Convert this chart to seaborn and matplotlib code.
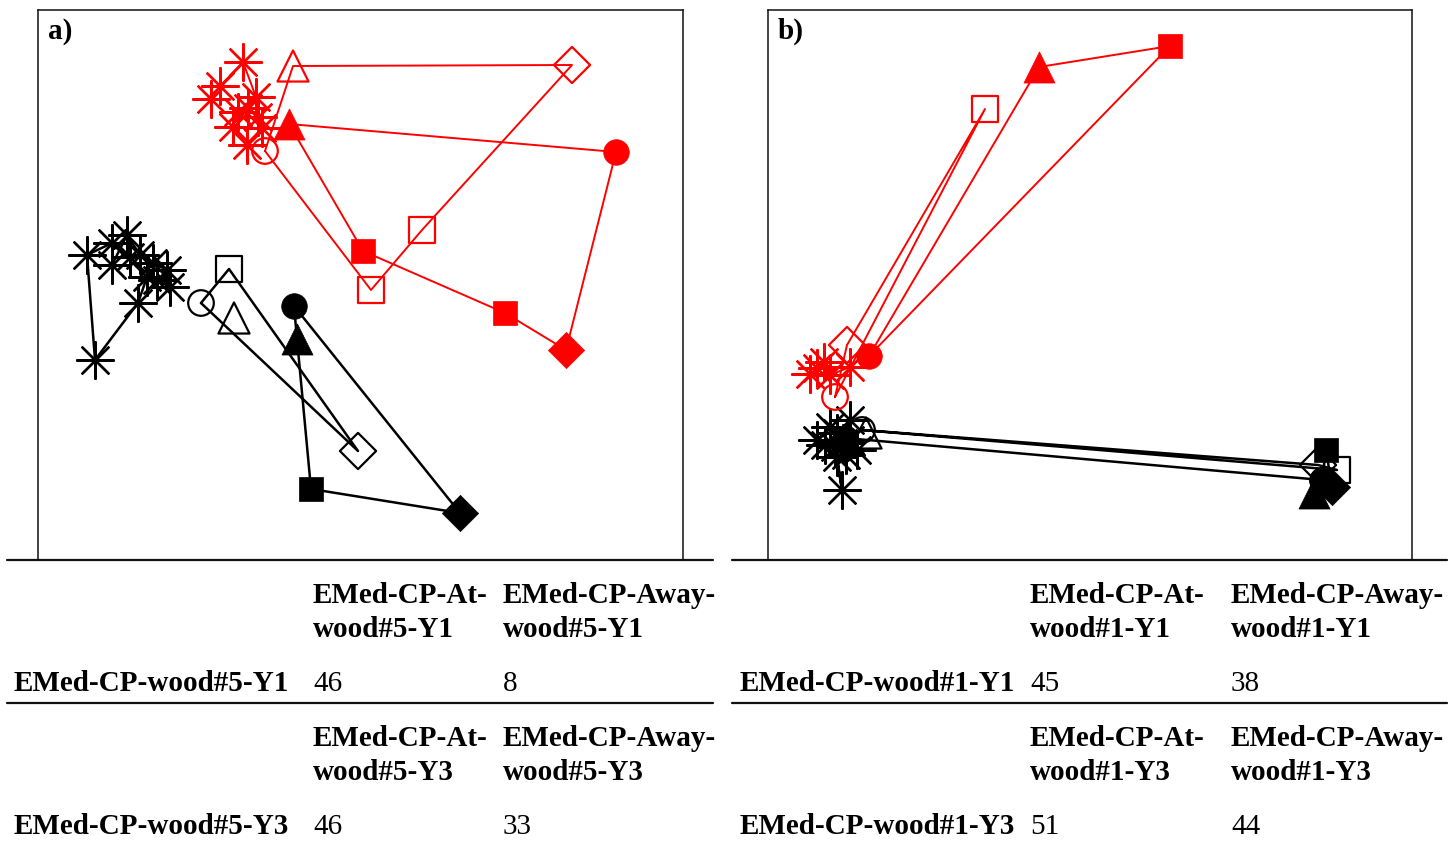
import matplotlib
matplotlib.use("Agg")
import matplotlib.pyplot as plt
import seaborn as sns
import pandas as pd
from matplotlib.lines import Line2D

# ---------------- data (ordination coordinates, arbitrary units) ----------------
# Panel a) wood#5 ; red = Y1, black = Y3
a_red_star_x = [1.73, 1.82, 2.05, 2.18, 2.10, 2.20, 2.24, 2.09, 1.95, 2.00]
a_red_star_y = [4.61, 4.74, 4.98, 4.63, 4.52, 4.43, 4.32, 4.15, 4.33, 4.48]
a_red_open_x = [2.27, 3.33, 3.84, 5.34, 2.55]
a_red_open_y = [4.09, 2.70, 3.30, 4.95, 4.94]
a_red_open_m = ["o", "s", "s", "D", "^"]
a_red_fill_x = [2.51, 5.78, 5.28, 4.67, 3.25]
a_red_fill_y = [4.36, 4.08, 2.10, 2.47, 3.09]
a_red_fill_m = ["^", "o", "D", "s", "s"]

a_blk_star_x = [0.92, 0.74, 0.49, 0.57, 1.00, 1.09, 1.19, 1.32, 1.29, 1.15, 1.02, 0.89, 0.74]
a_blk_star_y = [3.03, 3.17, 3.05, 2.00, 2.57, 2.83, 2.80, 2.73, 2.90, 2.97, 3.05, 3.25, 2.95]
a_blk_open_x = [1.63, 1.91, 3.20]
a_blk_open_y = [2.57, 2.91, 1.09]
a_blk_open_m = ["o", "s", "D"]
a_blk_solo_x = [1.96]
a_blk_solo_y = [2.42]
a_blk_solo_m = ["^"]
a_blk_fill_x = [2.56, 4.22, 2.73, 2.59]
a_blk_fill_y = [2.54, 0.47, 0.71, 2.21]
a_blk_fill_m = ["o", "D", "s", "^"]

# Panel b) wood#1
b_red_star_x = [0.42, 0.49, 0.56, 0.62, 0.82]
b_red_star_y = [1.86, 1.92, 1.98, 1.85, 1.93]
b_red_open_x = [0.67, 2.17, 0.79]
b_red_open_y = [1.63, 4.51, 2.15]
b_red_open_m = ["o", "s", "D"]
b_red_fill_x = [1.01, 4.02, 2.71]
b_red_fill_y = [2.04, 5.14, 4.93]
b_red_fill_m = ["o", "s", "^"]

b_blk_star_x = [0.49, 0.62, 0.69, 0.82, 0.75, 0.82, 0.89, 0.78, 0.69, 0.74, 0.67, 0.57]
b_blk_star_y = [1.20, 1.33, 1.27, 1.40, 1.17, 1.20, 1.10, 1.05, 1.03, 0.70, 1.13, 1.15]
b_blk_open_x = [0.94, 5.50, 5.69]
b_blk_open_y = [1.30, 0.95, 0.90]
b_blk_open_m = ["o", "D", "s"]
b_blk_solo_x = [0.98]
b_blk_solo_y = [1.27]
b_blk_solo_m = ["^"]
b_blk_fill_x = [0.77, 5.54, 5.46, 5.64, 5.58, 5.54]
b_blk_fill_y = [1.22, 0.80, 0.67, 0.73, 1.10, 0.80]
b_blk_fill_m = ["o", "o", "^", "D", "s", "o"]

# table text
panel_labels = ["a)", "b)"]
col_heads_a = [["EMed-CP-At-", "wood#5-Y1"], ["EMed-CP-Away-", "wood#5-Y1"],
               ["EMed-CP-At-", "wood#5-Y3"], ["EMed-CP-Away-", "wood#5-Y3"]]
col_heads_b = [["EMed-CP-At-", "wood#1-Y1"], ["EMed-CP-Away-", "wood#1-Y1"],
               ["EMed-CP-At-", "wood#1-Y3"], ["EMed-CP-Away-", "wood#1-Y3"]]
row_labels_a = ["EMed-CP-wood#5-Y1", "EMed-CP-wood#5-Y3"]
row_labels_b = ["EMed-CP-wood#1-Y1", "EMed-CP-wood#1-Y3"]
values_a = [[46, 8], [46, 33]]
values_b = [[45, 38], [51, 44]]

# ---------------- style ----------------
sns.set_style("white")
plt.rcParams["font.family"] = ["Liberation Serif", "DejaVu Serif"]
plt.rcParams["text.color"] = "black"

W, H = 1455, 841
fig = plt.figure(figsize=(W / 100, H / 100), dpi=100)


def fx(px):
    return px / W


def fy(py):
    return 1 - py / H


RED = "#ff0000"
BLK = "#000000"
MSIZE = {"o": 340, "s": 330, "D": 340, "^": 500}
STAR = (8, 2, 0)


def draw_path(ax, xs, ys, color, lw, closed=True):
    xs = list(xs) + ([xs[0]] if closed else [])
    ys = list(ys) + ([ys[0]] if closed else [])
    df = pd.DataFrame({"x": xs, "y": ys})
    sns.lineplot(data=df, x="x", y="y", sort=False, estimator=None,
                 color=color, lw=lw, ax=ax, zorder=2)


def draw_markers(ax, xs, ys, ms, color, filled):
    df = pd.DataFrame({"x": xs, "y": ys, "m": ms})
    for m, sub in df.groupby("m"):
        s = MSIZE[m] * (0.85 if (filled and m == "s") else 1.0)
        if filled:
            sns.scatterplot(data=sub, x="x", y="y", marker=m, s=s, color=color,
                            edgecolor=color, linewidth=0.5, ax=ax, zorder=4)
        else:
            sns.scatterplot(data=sub, x="x", y="y", marker=m, s=s,
                            facecolor="none", edgecolor=color, linewidth=1.6,
                            ax=ax, zorder=4)


def draw_stars(ax, xs, ys, color):
    df = pd.DataFrame({"x": xs, "y": ys})
    sns.scatterplot(data=df, x="x", y="y", marker=STAR, s=700, color=color,
                    linewidth=1.7, ax=ax, zorder=3)


panels = [
    dict(left=38, right=683, label=panel_labels[0],
         groups=[
             (a_red_star_x, a_red_star_y, None, RED, "star", False),
             (a_red_open_x, a_red_open_y, a_red_open_m, RED, "open", True),
             (a_red_fill_x, a_red_fill_y, a_red_fill_m, RED, "fill", True),
             (a_blk_star_x, a_blk_star_y, None, BLK, "star", False),
             (a_blk_open_x, a_blk_open_y, a_blk_open_m, BLK, "open", True),
             (a_blk_solo_x, a_blk_solo_y, a_blk_solo_m, BLK, "open", None),
             (a_blk_fill_x, a_blk_fill_y, a_blk_fill_m, BLK, "fill", True),
         ]),
    dict(left=768, right=1412, label=panel_labels[1],
         groups=[
             (b_red_star_x, b_red_star_y, None, RED, "star", False),
             (b_red_open_x, b_red_open_y, b_red_open_m, RED, "open", True),
             (b_red_fill_x, b_red_fill_y, b_red_fill_m, RED, "fill", True),
             (b_blk_star_x, b_blk_star_y, None, BLK, "star", False),
             (b_blk_fill_x, b_blk_fill_y, b_blk_fill_m, BLK, "fill", False),
             (b_blk_open_x, b_blk_open_y, b_blk_open_m, BLK, "open", True),
             (b_blk_solo_x, b_blk_solo_y, b_blk_solo_m, BLK, "open", None),
         ]),
]

TOP, BOT = 10, 560
for p in panels:
    ax = fig.add_axes([fx(p["left"]), fy(BOT), (p["right"] - p["left"]) / W,
                       (BOT - TOP) / H])
    wdat = (p["right"] - p["left"]) / 100
    for xs, ys, ms, col, kind, closed in p["groups"]:
        lw = 1.4 if col == RED else 1.8
        if closed is not None:
            draw_path(ax, xs, ys, col, lw, closed=closed)
        if kind == "star":
            draw_stars(ax, xs, ys, col)
        else:
            draw_markers(ax, xs, ys, ms, col, kind == "fill")
    ax.set_xlim(0, wdat)
    ax.set_ylim(0, 5.5)
    ax.set_xticks([])
    ax.set_yticks([])
    ax.set_xlabel("")
    ax.set_ylabel("")
    for sp in ax.spines.values():
        sp.set_visible(True)
        sp.set_color("#111111")
        sp.set_linewidth(1.1)
    ax.text(10 / 645, 1 - 29 / 550, p["label"], transform=ax.transAxes,
            fontsize=21, fontweight="bold", ha="left", va="baseline",
            color="black")

# horizontal rules
for y in (560, 703):
    for x0, x1 in ((7, 713), (732, 1447)):
        fig.add_artist(Line2D([fx(x0), fx(x1)], [fy(y), fy(y)],
                              color="#111111", lw=1.6))

FS = 21
tables = [
    (14, 313, 503, col_heads_a, row_labels_a, values_a),
    (740, 1030, 1231, col_heads_b, row_labels_b, values_b),
]
for xr, xc1, xc2, heads, rows, vals in tables:
    for t, (b1, b2, br) in enumerate(((603, 637, 691), (746, 780, 834))):
        for xc, hd in zip((xc1, xc2), heads[2 * t:2 * t + 2]):
            fig.text(fx(xc), fy(b1), hd[0], fontsize=FS, fontweight="bold",
                     ha="left", va="baseline", color="black")
            fig.text(fx(xc), fy(b2), hd[1], fontsize=FS, fontweight="bold",
                     ha="left", va="baseline", color="black")
        fig.text(fx(xr), fy(br), rows[t], fontsize=FS, fontweight="bold",
                 ha="left", va="baseline", color="black")
        fig.text(fx(xc1), fy(br), str(vals[t][0]), fontsize=FS,
                 ha="left", va="baseline", color="black")
        fig.text(fx(xc2), fy(br), str(vals[t][1]), fontsize=FS,
                 ha="left", va="baseline", color="black")

fig.savefig("out.png", dpi=100, facecolor="white")
